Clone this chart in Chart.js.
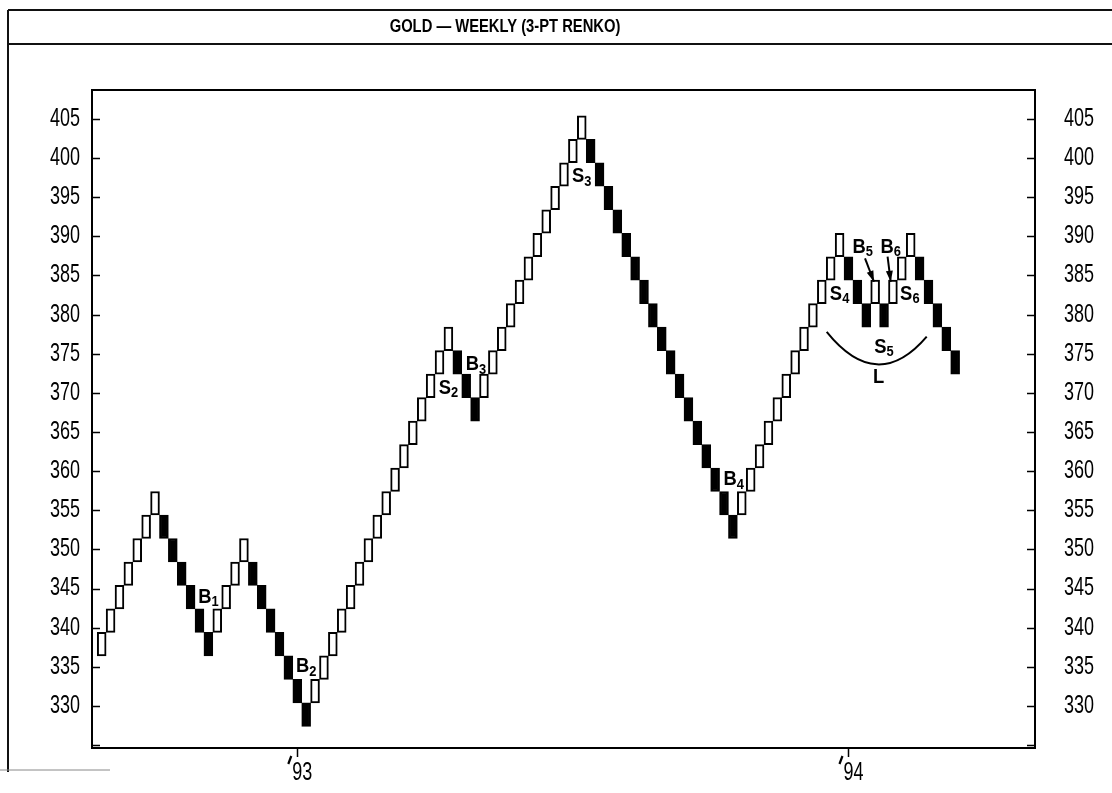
<!DOCTYPE html>
<html>
<head>
<meta charset="utf-8">
<script src="https://cdn.jsdelivr.net/npm/chart.js@4.4.1/dist/chart.umd.min.js"></script>
<style>
  html, body { margin: 0; padding: 0; background: #fff; }
  #wrap { position: relative; width: 1112px; height: 793px; }
  canvas { position: absolute; left: 0; top: 0; }
</style>
</head>
<body>
<div id="wrap"><canvas id="renko" width="1112" height="793"></canvas></div>
<script>
const chartTitle = 'GOLD — WEEKLY (3-PT RENKO)';
const boxSize = 3;

// bottom of each 3-pt brick, one per column
const brickLow = [
    336.4, 339.4, 342.4, 345.4, 348.4, 351.4, 354.4,
    351.4, 348.4, 345.4, 342.4, 339.4, 336.4,
    339.4, 342.4, 345.4, 348.4,
    345.4, 342.4, 339.4, 336.4, 333.4, 330.4, 327.4,
    330.4, 333.4, 336.4, 339.4, 342.4, 345.4, 348.4, 351.4,
    354.4, 357.4, 360.4, 363.4, 366.4, 369.4, 372.4, 375.4,
    372.4, 369.4, 366.4,
    369.4, 372.4, 375.4, 378.4, 381.4, 384.4, 387.4, 390.4, 393.4, 396.4, 399.4, 402.4,
    399.4, 396.4, 393.4, 390.4, 387.4, 384.4, 381.4, 378.4, 375.4,
    372.4, 369.4, 366.4, 363.4, 360.4, 357.4, 354.4, 351.4,
    354.4, 357.4, 360.4, 363.4, 366.4, 369.4, 372.4, 375.4, 378.4, 381.4, 384.4, 387.4,
    384.4, 381.4, 378.4,
    381.4,
    378.4,
    381.4, 384.4, 387.4,
    384.4, 381.4, 378.4, 375.4, 372.4
];
// U = rising (hollow) brick, D = falling (black) brick
const brickDir = ('UUUUUUU' + 'DDDDDD' + 'UUUU' + 'DDDDDDD' + 'UUUUUUUUUUUUUUUU' + 'DDD' +
    'UUUUUUUUUUUU' + 'DDDDDDDDDDDDDDDDD' + 'UUUUUUUUUUUU' + 'DDD' + 'U' + 'D' + 'UUU' + 'DDDDD').split('');

const yTickValues = [325, 330, 335, 340, 345, 350, 355, 360, 365, 370, 375, 380, 385, 390, 395, 400, 405];
const xTickCols = [23, 85];
const xTickLabels = ['93', '94'];

// pattern labels (letter + subscript) placed in column / price units
const noteText = ['B', 'B', 'S', 'B', 'S', 'B', 'S', 'B', 'B', 'S', 'S', 'L'];
const noteSub = ['1', '2', '2', '3', '3', '4', '4', '5', '6', '6', '5', ''];
const noteCol = [13.0, 24.0, 40.0, 43.1, 55.0, 72.1, 84.0, 86.6, 89.75, 91.9, 89.0, 88.4];
const noteVal = [343.9, 335.0, 370.6, 373.6, 397.6, 358.9, 382.6, 388.6, 388.6, 382.6, 375.8, 372.0];

const arrowFrom = [[86.86, 387.2], [89.4, 387.4]];
const arrowTo = [[87.87, 384.2], [89.75, 384.2]];
const arcPoints = [[82.55, 377.8], [88.2, 373.65], [93.8, 377.2]];

const labelFamily = "'Liberation Sans', Arial, sans-serif";

const bricks = brickLow.map((lo, i) => ({ x: i + 1, y: [lo, lo + boxSize] }));

// condensed text: draw with a horizontal squeeze
function narrowText(ctx, text, x, y, size, squeeze, align, bold) {
    ctx.save();
    ctx.font = (bold ? 'bold ' : '') + size + 'px ' + labelFamily;
    ctx.textBaseline = 'middle';
    const w = ctx.measureText(text).width * squeeze;
    let x0 = x;
    if (align === 'right') x0 = x - w;
    if (align === 'center') x0 = x - w / 2;
    ctx.translate(x0, y);
    ctx.scale(squeeze, 1);
    ctx.textAlign = 'left';
    ctx.fillText(text, 0, 0);
    ctx.restore();
    return w;
}

const decorPlugin = {
    id: 'decor',
    afterDraw(chart) {
        const ctx = chart.ctx;
        const area = chart.chartArea;
        const xs = chart.scales.x;
        const ys = chart.scales.y;

        ctx.save();
        ctx.fillStyle = '#000';
        ctx.strokeStyle = '#111';
        ctx.lineWidth = 2;

        // outer frame and title band
        ctx.beginPath();
        ctx.moveTo(8, 10); ctx.lineTo(1112, 10);
        ctx.moveTo(8, 44); ctx.lineTo(1112, 44);
        ctx.moveTo(8, 10); ctx.lineTo(8, 772);
        ctx.stroke();
        ctx.strokeStyle = '#888';
        ctx.lineWidth = 1;
        ctx.beginPath();
        ctx.moveTo(0, 770); ctx.lineTo(110, 770);
        ctx.stroke();

        narrowText(ctx, chartTitle, 505, 27, 18, 0.82, 'center', true);

        // plot box
        ctx.strokeStyle = '#000';
        ctx.lineWidth = 2;
        ctx.strokeRect(area.left, area.top, area.right - area.left, area.bottom - area.top);

        // inward ticks on both price axes, outward on time axis
        ctx.lineWidth = 1.5;
        ctx.beginPath();
        ys.ticks.forEach(t => {
            const py = Math.round(ys.getPixelForValue(t.value)) + 0.5;
            ctx.moveTo(area.left, py); ctx.lineTo(area.left + 8, py);
            ctx.moveTo(area.right, py); ctx.lineTo(area.right - 8, py);
        });
        xs.ticks.forEach(t => {
            const px = Math.round(xs.getPixelForValue(t.value)) + 0.5;
            ctx.moveTo(px, area.bottom); ctx.lineTo(px, area.bottom + 9);
        });
        ctx.stroke();

        // tick labels
        ys.ticks.forEach(t => {
            if (t.value === 325) return;
            const py = ys.getPixelForValue(t.value);
            narrowText(ctx, String(t.value), 80, py, 25, 0.72, 'right', false);
            narrowText(ctx, String(t.value), 1064, py, 25, 0.72, 'left', false);
        });
        xs.ticks.forEach(t => {
            const px = xs.getPixelForValue(t.value);
            const lab = xTickLabels[xTickCols.indexOf(t.value)];
            const w = narrowText(ctx, lab, px + 5, 773, 25, 0.72, 'center', false);
            // year apostrophe, slanted stroke at the top left
            const ax = px + 5 - w / 2 - 3;
            ctx.lineWidth = 2.2;
            ctx.beginPath();
            ctx.moveTo(ax + 2, 756);
            ctx.lineTo(ax - 1, 764);
            ctx.stroke();
        });

        // pattern labels
        noteText.forEach((t, i) => {
            const cx = xs.getPixelForValue(noteCol[i]);
            const cy = ys.getPixelForValue(noteVal[i]);
            ctx.font = 'bold 20px ' + labelFamily;
            const w1 = ctx.measureText(t).width * 0.92;
            ctx.font = 'bold 14px ' + labelFamily;
            const w2 = noteSub[i] ? ctx.measureText(noteSub[i]).width * 0.92 : 0;
            const x0 = cx - (w1 + w2) / 2;
            narrowText(ctx, t, x0, cy, 20, 0.92, 'left', true);
            if (noteSub[i]) narrowText(ctx, noteSub[i], x0 + w1, cy + 5, 14, 0.92, 'left', true);
        });

        // arrows to B5 / B6 bricks
        arrowFrom.forEach((f, i) => {
            const x1 = xs.getPixelForValue(f[0]), y1 = ys.getPixelForValue(f[1]);
            const x2 = xs.getPixelForValue(arrowTo[i][0]), y2 = ys.getPixelForValue(arrowTo[i][1]);
            const ang = Math.atan2(y2 - y1, x2 - x1);
            ctx.lineWidth = 2;
            ctx.beginPath();
            ctx.moveTo(x1, y1); ctx.lineTo(x2, y2);
            ctx.stroke();
            ctx.beginPath();
            ctx.moveTo(x2, y2);
            ctx.lineTo(x2 - 11 * Math.cos(ang) + 3.5 * Math.sin(ang), y2 - 11 * Math.sin(ang) - 3.5 * Math.cos(ang));
            ctx.lineTo(x2 - 11 * Math.cos(ang) - 3.5 * Math.sin(ang), y2 - 11 * Math.sin(ang) + 3.5 * Math.cos(ang));
            ctx.closePath();
            ctx.fill();
        });

        // rounded bottom arc
        const p = arcPoints.map(a => [xs.getPixelForValue(a[0]), ys.getPixelForValue(a[1])]);
        const cpx = 2 * p[1][0] - (p[0][0] + p[2][0]) / 2;
        const cpy = 2 * p[1][1] - (p[0][1] + p[2][1]) / 2;
        ctx.lineWidth = 2;
        ctx.beginPath();
        ctx.moveTo(p[0][0], p[0][1]);
        ctx.quadraticCurveTo(cpx, cpy, p[2][0], p[2][1]);
        ctx.stroke();
        ctx.restore();
    }
};

const priceAxis = (pos, width) => ({
    position: pos,
    min: 324.63,
    max: 408.7,
    afterBuildTicks: s => { s.ticks = yTickValues.map(v => ({ value: v })); },
    afterFit: s => { s.width = width; },
    grid: { display: false, drawTicks: false },
    border: { display: false },
    ticks: { display: false }
});

new Chart(document.getElementById('renko'), {
    type: 'bar',
    data: {
        datasets: [{
            data: bricks,
            backgroundColor: brickDir.map(d => (d === 'U' ? '#fff' : '#000')),
            borderColor: '#000',
            borderWidth: 2,
            borderSkipped: false,
            barPercentage: 1,
            categoryPercentage: 1
        }]
    },
    options: {
        responsive: false,
        animation: false,
        devicePixelRatio: 1,
        layout: { padding: { top: 90, left: 0, right: 0, bottom: 0 } },
        plugins: { legend: { display: false }, tooltip: { enabled: false }, title: { display: false } },
        scales: {
            x: {
                type: 'linear',
                offset: false,
                min: -0.09,
                max: 105.98,
                afterBuildTicks: s => { s.ticks = xTickCols.map(v => ({ value: v })); },
                afterFit: s => { s.height = 45; },
                grid: { display: false, drawTicks: false },
                border: { display: false },
                ticks: { display: false }
            },
            y: priceAxis('left', 92),
            y2: priceAxis('right', 77)
        }
    },
    plugins: [decorPlugin]
});
</script>
</body>
</html>
